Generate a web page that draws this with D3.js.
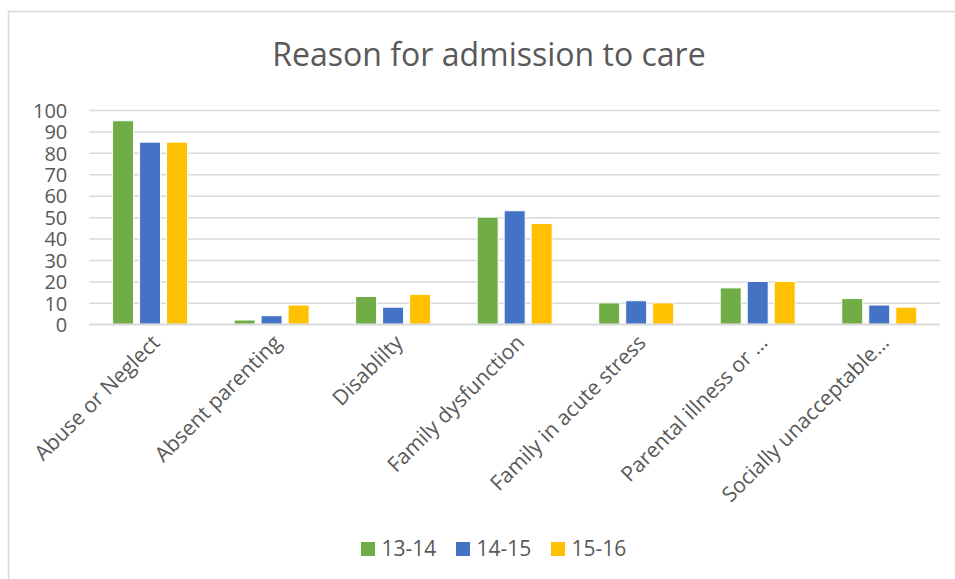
<!DOCTYPE html>
<html>
<head>
<meta charset="utf-8">
<script src="https://cdn.jsdelivr.net/npm/d3@7"></script>
<style>
  html, body { margin: 0; padding: 0; background: #fff; }
  svg { display: block; font-family: "Open Sans", sans-serif; }
</style>
</head>
<body>
<svg id="chart" width="955" height="579"></svg>
<script>
const categories = ["Abuse or Neglect", "Absent parenting", "Disablilty", "Family dysfunction", "Family in acute stress", "Parental illness or …", "Socially unacceptable…"];
const seriesNames = ["13-14", "14-15", "15-16"];
const values1314 = [95, 2, 13, 50, 10, 17, 12];
const values1415 = [85, 4, 8, 53, 11, 20, 9];
const values1516 = [85, 9, 14, 47, 10, 20, 8];
const colors = ["#70AD47", "#4472C4", "#FFC000"];
const yTicks = [0, 10, 20, 30, 40, 50, 60, 70, 80, 90, 100];

const seriesValues = [values1314, values1415, values1516];
const svg = d3.select("#chart");
const textColor = "#595959";
const gridColor = "#d9d9d9";

// chart border
svg.append("rect").attr("x", 8.5).attr("y", 11.5).attr("width", 1000).attr("height", 1000)
  .attr("fill", "#fff").attr("stroke", gridColor).attr("stroke-width", 1.5);

// title
svg.append("text").attr("x", 489).attr("y", 66).attr("text-anchor", "middle")
  .attr("font-size", 32).attr("fill", textColor).text("Reason for admission to care");

const plotLeft = 89.3, plotRight = 940, plotTop = 110, plotBottom = 324.3;
const x0 = d3.scaleBand().domain(categories).range([plotLeft, plotRight]).paddingInner(0.383).paddingOuter(0.1915);
const x1 = d3.scaleBand().domain(seriesNames).range([0, x0.bandwidth()]).paddingInner(0.222).paddingOuter(0);
const y = d3.scaleLinear().domain([0, 100]).range([plotBottom, plotTop]);

// gridlines
const yAxis = d3.axisLeft(y).tickValues(yTicks).tickSize(-(plotRight - plotLeft)).tickPadding(22);
const gy = svg.append("g").attr("transform", `translate(${plotLeft},0)`).call(yAxis);
gy.select(".domain").remove();
gy.selectAll(".tick line").attr("stroke", gridColor).attr("stroke-width", 1.5);
gy.selectAll(".tick text").attr("font-size", 20).attr("fill", textColor)
  .attr("font-family", "Open Sans, sans-serif").attr("dy", "0.36em");

// bars
const groups = svg.append("g").selectAll("g").data(categories).join("g")
  .attr("transform", d => `translate(${x0(d)},0)`);
groups.selectAll("rect").data((d, i) => seriesNames.map((s, j) => ({ s, v: seriesValues[j][i], j })))
  .join("rect")
  .attr("x", d => x1(d.s)).attr("width", x1.bandwidth())
  .attr("y", d => y(d.v)).attr("height", d => y(0) - y(d.v))
  .attr("fill", d => colors[d.j]).attr("stroke", "#fff").attr("stroke-width", 1);

// x axis line
svg.append("line").attr("x1", plotLeft).attr("x2", plotRight).attr("y1", y(0)).attr("y2", y(0))
  .attr("stroke", gridColor).attr("stroke-width", 1.5);

// category labels
svg.append("g").selectAll("text").data(categories).join("text")
  .attr("transform", d => `translate(${x0(d) + x0.bandwidth() / 2 + 11},${344}) rotate(-45)`)
  .attr("text-anchor", "end")
  .attr("font-size", 21).attr("fill", textColor).text(d => d);

// legend
const legendX = [361, 456, 551];
const lg = svg.append("g").selectAll("g").data(seriesNames).join("g")
  .attr("transform", (d, i) => `translate(${legendX[i]},542)`);
lg.append("rect").attr("width", 14).attr("height", 14).attr("fill", (d, i) => colors[i]);
lg.append("text").attr("x", 20.5).attr("y", 14).attr("font-size", 21).attr("fill", textColor).text(d => d);
</script>
</body>
</html>
